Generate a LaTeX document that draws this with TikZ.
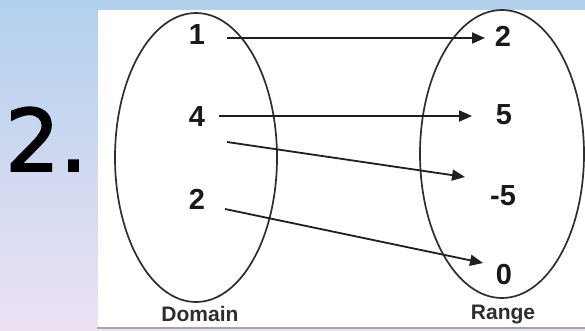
\documentclass[tikz,border=0pt]{standalone}
\usepackage{fontspec}
\setmainfont{Liberation Sans}
\newfontfamily\bigfont[FakeBold=2]{DejaVu Sans}
\usetikzlibrary{arrows.meta}
\definecolor{skyblue}{HTML}{B2D0EE}
\definecolor{lavender}{HTML}{ECE2F3}
\definecolor{inkgray}{HTML}{2E2E2E}
\tikzset{
  setoval/.style={draw=inkgray, line width=1.7pt},
  valnum/.style={inner sep=0pt, font=\bfseries\fontsize{29}{29}\selectfont, text=black!90},
  setname/.style={inner sep=0pt, anchor=base, font=\bfseries\fontsize{21}{21}\selectfont, text=inkgray},
  maparrow/.style={draw=black!88, line width=1.8pt, -{Triangle[length=13pt,width=11pt]}}
}
\begin{document}
\begin{tikzpicture}[x=1pt, y=-1pt]
  % page background and white card
  \useasboundingbox (0,0) rectangle (585,330);
  \shade[top color=skyblue, bottom color=lavender] (0,0) rectangle (585,330);
  \fill[white] (98,10) rectangle (585,327);
  \draw[gray!70, line width=1.5pt] (97,328) -- (585,328);

  % problem number
  \node[inner sep=0pt, anchor=base west, font=\bigfont\fontsize{86}{86}\selectfont] (num) at (5,171) {2.};

  % domain and range ovals
  \draw[setoval] (196,157.5) ellipse [x radius=81, y radius=144.5];
  \draw[setoval] (502,154) ellipse [x radius=82, y radius=144];

  % domain values
  \node[valnum] (d1) at (197,35) {1};
  \node[valnum] (d4) at (197,117) {4};
  \node[valnum] (d2) at (197,199) {2};

  % range values
  \node[valnum] (r2) at (503,36) {2};
  \node[valnum] (r5) at (504,115) {5};
  \node[valnum] (rm5) at (503,196) {-5};
  \node[valnum] (r0) at (504,275) {0};

  % set labels
  \node[setname] (dom) at (200,321) {Domain};
  \node[setname] (ran) at (503,319.5) {Range};

  % arrow end points
  \coordinate (s1) at (227,38);
  \coordinate (t1) at (485,38);
  \coordinate (s4a) at (219,116);
  \coordinate (t4a) at (472,116);
  \coordinate (s4b) at (227,142);
  \coordinate (t4b) at (465,177);
  \coordinate (s2) at (225,209);
  \coordinate (t2) at (483,263);

  % mapping arrows
  \draw[maparrow] (s1) -- (t1);
  \draw[maparrow] (s4a) -- (t4a);
  \draw[maparrow] (s4b) -- (t4b);
  \draw[maparrow] (s2) -- (t2);
\end{tikzpicture}
\end{document}
